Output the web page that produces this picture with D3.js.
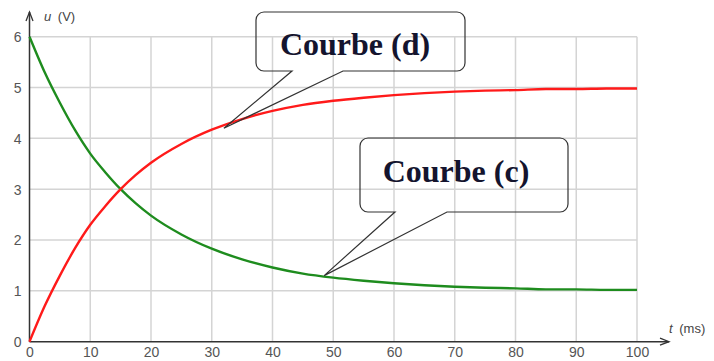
<!DOCTYPE html>
<html>
<head>
<meta charset="utf-8">
<script src="https://cdn.jsdelivr.net/npm/d3@7"></script>
<style>
  body { margin: 0; background: #fff; }
  svg { display: block; }
  .tick-label { font-family: Arial, "Liberation Sans", sans-serif; font-size: 14px; fill: #555; }
  .axis-name { font-family: Arial, "Liberation Sans", sans-serif; font-size: 13px; fill: #444; }
  .callout-text { font-family: "Liberation Serif", "Times New Roman", serif; font-weight: bold; font-size: 32px; fill: #14142e; }
</style>
</head>
<body>
<div id="chart"></div>
<script>
// time samples (ms)
const times = [0, 2.5, 5, 7.5, 10, 12.5, 15, 17.5, 20, 25, 30, 35, 40, 45, 50, 55, 60, 65, 70, 75, 80, 85, 90, 95, 100];
// courbe (d) - red, rising
const courbeD = [0, 0.7, 1.3, 1.84, 2.3, 2.67, 3.0, 3.28, 3.52, 3.89, 4.17, 4.38, 4.54, 4.66, 4.74, 4.8, 4.85, 4.89, 4.92, 4.94, 4.95, 4.97, 4.97, 4.98, 4.98];
// courbe (c) - green, falling
const courbeC = [6, 5.3, 4.7, 4.16, 3.7, 3.33, 3.0, 2.72, 2.48, 2.11, 1.83, 1.62, 1.46, 1.34, 1.26, 1.2, 1.15, 1.11, 1.08, 1.06, 1.05, 1.03, 1.03, 1.02, 1.02];
const xTicks = [0, 10, 20, 30, 40, 50, 60, 70, 80, 90, 100];
const yTicks = [0, 1, 2, 3, 4, 5, 6];

const width = 714, height = 361;

const svg = d3.select('#chart').append('svg')
    .attr('width', width)
    .attr('height', height);

const x = d3.scaleLinear().domain([0, 100]).range([29.5, 637]);
const y = d3.scaleLinear().domain([0, 6]).range([341.7, 36.7]);

// grid
svg.append('g').selectAll('line')
    .data(xTicks.slice(1))
    .enter().append('line')
    .attr('x1', d => x(d)).attr('x2', d => x(d))
    .attr('y1', y(0)).attr('y2', y(6))
    .attr('stroke', '#d4d4d4').attr('stroke-width', 1.5);

svg.append('g').selectAll('line')
    .data(yTicks.slice(1))
    .enter().append('line')
    .attr('x1', x(0)).attr('x2', x(100))
    .attr('y1', d => y(d)).attr('y2', d => y(d))
    .attr('stroke', '#d4d4d4').attr('stroke-width', 1.5);

// tick labels through d3 axes, no tick marks
const xAxis = svg.append('g')
    .attr('transform', `translate(0,${y(0)})`)
    .call(d3.axisBottom(x).tickValues(xTicks).tickFormat(d3.format('d')).tickSize(0).tickPadding(5));
const yAxis = svg.append('g')
    .attr('transform', `translate(${x(0)},0)`)
    .call(d3.axisLeft(y).tickValues(yTicks).tickFormat(d3.format('d')).tickSize(0).tickPadding(8));
[xAxis, yAxis].forEach(a => {
    a.select('.domain').remove();
    a.selectAll('text').attr('class', 'tick-label').attr('fill', null);
});
yAxis.selectAll('text').attr('dy', '0.35em');

// axes with arrows
const axisColor = '#333';
svg.append('line')
    .attr('x1', x(0)).attr('x2', x(0))
    .attr('y1', y(0)).attr('y2', 12)
    .attr('stroke', axisColor).attr('stroke-width', 1.5);
svg.append('path')
    .attr('d', `M${x(0) - 3.5},21 L${x(0)},12 L${x(0) + 3.5},21`)
    .attr('fill', 'none').attr('stroke', axisColor).attr('stroke-width', 1.3);

svg.append('line')
    .attr('x1', x(0)).attr('x2', 669)
    .attr('y1', y(0)).attr('y2', y(0))
    .attr('stroke', axisColor).attr('stroke-width', 1.5);
svg.append('path')
    .attr('d', `M660,${y(0) - 3.5} L669,${y(0)} L660,${y(0) + 3.5}`)
    .attr('fill', 'none').attr('stroke', axisColor).attr('stroke-width', 1.3);

// axis names
const uLabel = svg.append('text').attr('class', 'axis-name').attr('x', 44).attr('y', 21);
uLabel.append('tspan').style('font-style', 'italic').text('u');
uLabel.append('tspan').text(' (V)').attr('dx', 3);

const tLabel = svg.append('text').attr('class', 'axis-name').attr('x', 669).attr('y', 333);
tLabel.append('tspan').style('font-style', 'italic').text('t');
tLabel.append('tspan').text(' (ms)').attr('dx', 3);

// curves
const line = data => d3.line()
    .x((d, i) => x(times[i]))
    .y(d => y(d))
    .curve(d3.curveMonotoneX)(data);

svg.append('path')
    .attr('d', line(courbeC))
    .attr('fill', 'none')
    .attr('stroke', '#1e8c1e')
    .attr('stroke-width', 2.4);

svg.append('path')
    .attr('d', line(courbeD))
    .attr('fill', 'none')
    .attr('stroke', '#ff1a1a')
    .attr('stroke-width', 2.4);

// callouts
const callouts = [
    { label: 'Courbe (d)', x0: 256, y0: 12, x1: 465, y1: 71, b0: 292, b1: 343, tipT: 32, tipU: 4.2, tx: 355, ty: 55 },
    { label: 'Courbe (c)', x0: 360, y0: 138, x1: 568, y1: 212, b0: 395, b1: 447, tipT: 48.5, tipU: 1.3, tx: 456, ty: 182 }
];

callouts.forEach(c => {
    const tipX = x(c.tipT), tipY = y(c.tipU);
    const r = 8;
    const p = d3.path();
    p.moveTo(c.x0 + r, c.y0);
    p.lineTo(c.x1 - r, c.y0);
    p.arcTo(c.x1, c.y0, c.x1, c.y0 + r, r);
    p.lineTo(c.x1, c.y1 - r);
    p.arcTo(c.x1, c.y1, c.x1 - r, c.y1, r);
    p.lineTo(c.b1, c.y1);
    p.lineTo(tipX, tipY);
    p.lineTo(c.b0, c.y1);
    p.lineTo(c.x0 + r, c.y1);
    p.arcTo(c.x0, c.y1, c.x0, c.y1 - r, r);
    p.lineTo(c.x0, c.y0 + r);
    p.arcTo(c.x0, c.y0, c.x0 + r, c.y0, r);
    p.closePath();
    svg.append('path')
        .attr('d', p.toString())
        .attr('fill', 'none')
        .attr('stroke', '#333')
        .attr('stroke-width', 1.2);
    svg.append('text')
        .attr('class', 'callout-text')
        .attr('x', c.tx).attr('y', c.ty)
        .attr('text-anchor', 'middle')
        .text(c.label);
});
</script>
</body>
</html>
